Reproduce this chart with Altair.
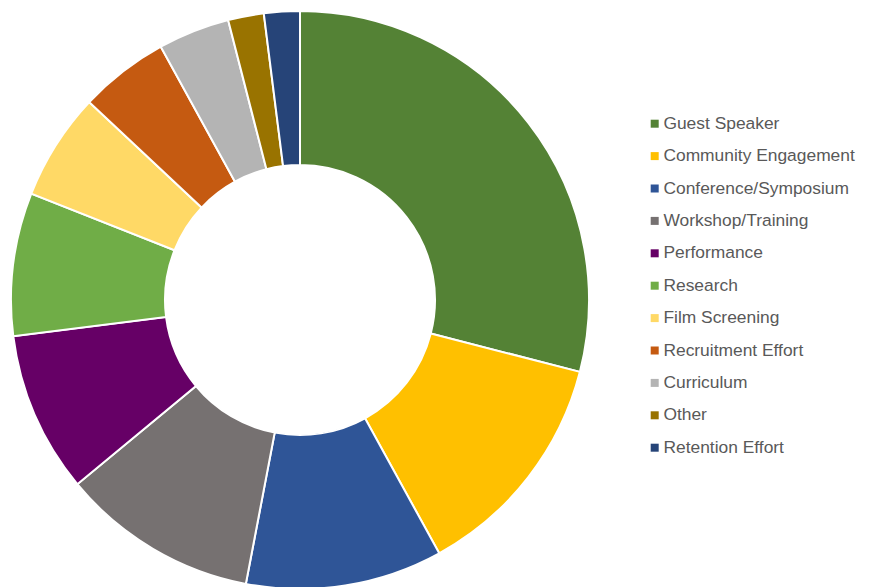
import altair as alt
import pandas as pd

categories = ["Guest Speaker", "Community Engagement", "Conference/Symposium",
              "Workshop/Training", "Performance", "Research", "Film Screening",
              "Recruitment Effort", "Curriculum", "Other", "Retention Effort"]
values = [29, 13, 11, 11, 9, 8, 6, 5, 4, 2, 2]
colors = ["#548235", "#FFC000", "#2F5597", "#767171", "#660066", "#70AD47",
          "#FFD966", "#C55A11", "#B4B4B4", "#997300", "#264478"]

df = pd.DataFrame({"category": categories, "value": values,
                   "order": list(range(len(categories)))})

chart = alt.Chart(df).mark_arc(
    outerRadius=289, innerRadius=135, stroke="white", strokeWidth=2
).encode(
    theta=alt.Theta("value:Q", stack=True),
    order=alt.Order("order:Q", sort="ascending"),
    color=alt.Color(
        "category:N",
        scale=alt.Scale(domain=categories, range=colors),
        sort=categories,
        legend=alt.Legend(
            title=None, orient="none", legendX=638, legendY=107,
            symbolType="square", symbolSize=64, symbolStrokeWidth=0,
            labelFontSize=17.4, labelFont="Liberation Sans", labelColor="#595959",
            labelOffset=0, rowPadding=13.4, labelLimit=300
        ),
    ),
    x=alt.value(292),
    y=alt.value(292),
).properties(
    width=856, height=579, padding=0, autosize=alt.AutoSizeParams(type="none")
).configure_view(stroke=None)

chart.save("out.html", embed_options={"renderer": "svg", "actions": False})
